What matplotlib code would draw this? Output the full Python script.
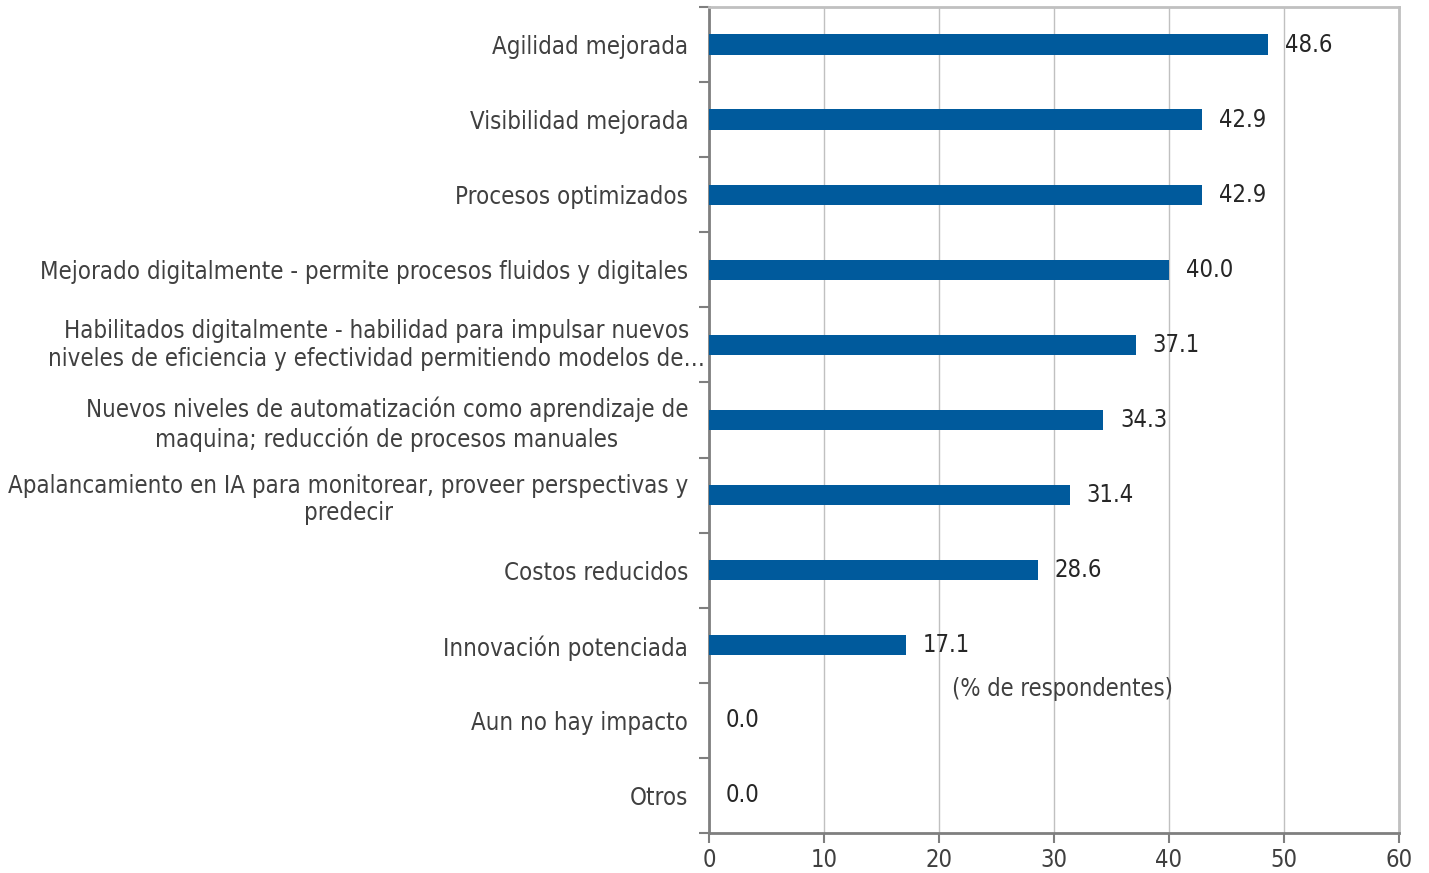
import numpy as np
import matplotlib.pyplot as plt

categorias = [
    "Agilidad mejorada",
    "Visibilidad mejorada",
    "Procesos optimizados",
    "Mejorado digitalmente - permite procesos fluidos y digitales",
    "Habilitados digitalmente - habilidad para impulsar nuevos\nniveles de eficiencia y efectividad permitiendo modelos de\u2026",
    "Nuevos niveles de automatización como aprendizaje de\nmaquina; reducción de procesos manuales",
    "Apalancamiento en IA para monitorear, proveer perspectivas y\npredecir",
    "Costos reducidos",
    "Innovación potenciada",
    "Aun no hay impacto",
    "Otros",
]
valores = [48.6, 42.9, 42.9, 40.0, 37.1, 34.3, 31.4, 28.6, 17.1, 0.0, 0.0]
x_ticks = [0, 10, 20, 30, 40, 50, 60]
nota = "(% de respondentes)"
idx_truncada = 4  # etiqueta cortada con "..." que invade el eje

plt.rcParams['font.family'] = ['DejaVu Sans']
plt.rcParams['font.stretch'] = 'condensed'

fig = plt.figure(figsize=(14.29, 8.73), dpi=100)
ax = fig.add_axes([709 / 1429, 1 - 833 / 873, 690 / 1429, 826 / 873])

pos = np.arange(len(categorias))
ax.barh(pos, valores, height=0.27, color="#005a9c", zorder=3)

# etiquetas de valor
for p, v in zip(pos, valores):
    ax.text(v + 1.45, p, f"{v:.1f}", va="center", ha="left",
            fontsize=17, color="#262626", zorder=4)

ax.text(21.1, 8.58, nota, va="center", ha="left", fontsize=17, color="#404040", zorder=4)

ax.set_xlim(0, 60)
ax.set_ylim(len(categorias) - 0.5, -0.5)
ax.set_xticks(x_ticks)
ax.set_xticklabels([str(t) for t in x_ticks], fontsize=17, color="#404040")
ax.set_yticks(pos)
etiquetas = ["" if i == idx_truncada else c for i, c in enumerate(categorias)]
ax.set_yticklabels(etiquetas, fontsize=17.2, color="#404040",
                   linespacing=1.18, multialignment="center")
ax.set_yticks(np.arange(-0.5, len(categorias)), minor=True)

# la etiqueta truncada se sale un poco hacia el eje, como en el original
ax.annotate(categorias[idx_truncada], xy=(0, pos[idx_truncada]),
            xycoords=ax.get_yaxis_transform(), xytext=(-3, 0),
            textcoords="offset points", ha="right", va="center",
            fontsize=17.2, color="#404040", linespacing=1.18,
            multialignment="center", annotation_clip=False)

ax.tick_params(axis="y", which="major", length=0, pad=15)
ax.tick_params(axis="y", which="minor", length=7, width=1.5, color="#7f7f7f", direction="out")
ax.tick_params(axis="x", which="major", length=7, width=1.5, color="#7f7f7f", direction="out", pad=4)

ax.grid(axis="x", color="#c0c0c0", linewidth=1, zorder=0)

for s in ["left", "bottom"]:
    ax.spines[s].set_color("#7f7f7f")
    ax.spines[s].set_linewidth(2)
for s in ["top", "right"]:
    ax.spines[s].set_color("#c0c0c0")
    ax.spines[s].set_linewidth(2)

fig.savefig("out.png", dpi=100)
